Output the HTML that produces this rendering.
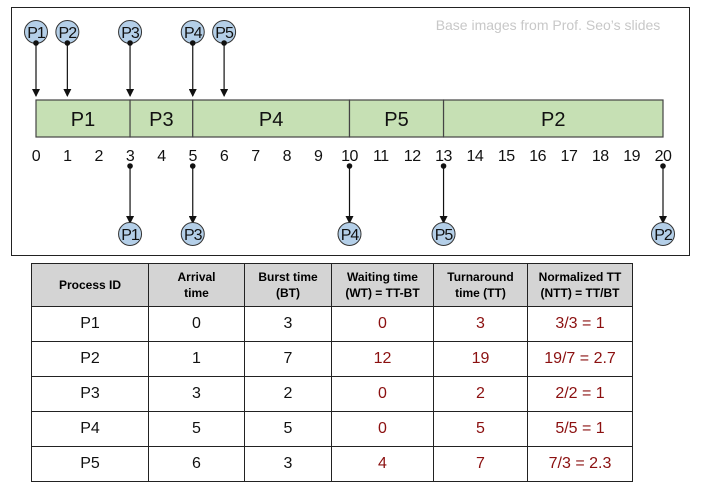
<!DOCTYPE html>
<html><head><meta charset="utf-8"><style>
body{margin:0;background:#fff;width:703px;height:493px;overflow:hidden;font-family:"Liberation Sans",sans-serif}
#frame{position:absolute;left:11px;top:7px;width:677px;height:247px;border:1px solid #222}
table{position:absolute;left:31px;top:263px;border-collapse:collapse;font-family:"Liberation Sans",sans-serif}
td,th{border:1.5px solid #222;text-align:center;padding:0}
th{background:#d4d4d4;font-size:12px;font-weight:bold;height:42px;line-height:16px}
td{height:34px;font-size:16px;color:#111}
td.r{color:#8b1010}
</style></head><body>
<div id="frame"></div>
<svg id="chart" width="703" height="260" style="position:absolute;left:0;top:0">
<text x="548" y="30" text-anchor="middle" font-size="14" fill="#c8c8c8">Base images from Prof. Seo’s slides</text>
</svg>
<table>
<tr><th style="width:116px">Process ID</th><th style="width:95px">Arrival<br>time</th><th style="width:86px">Burst time<br>(BT)</th><th style="width:101px">Waiting time<br>(WT) = TT-BT</th><th style="width:93px">Turnaround<br>time (TT)</th><th style="width:104px">Normalized TT<br>(NTT) = TT/BT</th></tr>
<tr><td>P1</td><td>0</td><td>3</td><td class="r">0</td><td class="r">3</td><td class="r">3/3 = 1</td></tr>
<tr><td>P2</td><td>1</td><td>7</td><td class="r">12</td><td class="r">19</td><td class="r">19/7 = 2.7</td></tr>
<tr><td>P3</td><td>3</td><td>2</td><td class="r">0</td><td class="r">2</td><td class="r">2/2 = 1</td></tr>
<tr><td>P4</td><td>5</td><td>5</td><td class="r">0</td><td class="r">5</td><td class="r">5/5 = 1</td></tr>
<tr><td>P5</td><td>6</td><td>3</td><td class="r">4</td><td class="r">7</td><td class="r">7/3 = 2.3</td></tr>
</table>
<script>
const segNames=["P1","P3","P4","P5","P2"];
const segStart=[0,3,5,10,13];
const segEnd=[3,5,10,13,20];
const arrivalNames=["P1","P2","P3","P4","P5"];
const arrivalTimes=[0,1,3,5,6];
const finishNames=["P1","P3","P4","P5","P2"];
const finishTimes=[3,5,10,13,20];
const ticks=[0,1,2,3,4,5,6,7,8,9,10,11,12,13,14,15,16,17,18,19,20];
const NS="http://www.w3.org/2000/svg";
const svg=document.getElementById("chart");
const x=t=>36+t*(663-36)/20;
function mk(tag,attrs,parent){const e=document.createElementNS(NS,tag);for(const k in attrs)e.setAttribute(k,attrs[k]);(parent||svg).appendChild(e);return e;}
const defs=mk("defs",{});
const m=mk("marker",{id:"ah",markerWidth:"8",markerHeight:"8",refX:"7",refY:"4",orient:"auto",markerUnits:"userSpaceOnUse"},defs);
mk("path",{d:"M0,0 L8,4 L0,8 z",fill:"#111"},m);
segNames.forEach((n,i)=>{
  const r=mk("rect",{x:x(segStart[i]),y:100,width:x(segEnd[i])-x(segStart[i]),height:37,fill:"#c6e0b4",stroke:"#444","stroke-width":1.2});
  
  
  const t=mk("text",{x:(x(segStart[i])+x(segEnd[i]))/2,y:126,"text-anchor":"middle","font-size":20,fill:"#111"});
  t.textContent=n;
  
  
});
ticks.forEach(v=>{
  const t=mk("text",{x:x(v),y:161,"text-anchor":"middle","font-size":16,fill:"#111","letter-spacing":"-0.5"});
  t.textContent=v;
  
  
});
function circ(cx,cy,label){
  const g=mk("g",{});
  
  
  mk("circle",{cx:cx,cy:cy,r:11.5,fill:"#b4cfe8",stroke:"#333","stroke-width":1},g);
  const t=mk("text",{x:cx,y:cy+6,"text-anchor":"middle","font-size":16,fill:"#111","letter-spacing":"-1"},g);
  t.textContent=label;
}
arrivalNames.forEach((n,i)=>{
  const cx=x(arrivalTimes[i]);
  circ(cx,32,n);
  mk("line",{x1:cx,y1:43,x2:cx,y2:96,stroke:"#111","stroke-width":1.2,"marker-end":"url(#ah)"});
  mk("circle",{cx:cx,cy:43,r:2.8,fill:"#111"});
});
finishNames.forEach((n,i)=>{
  const cx=x(finishTimes[i]);
  mk("line",{x1:cx,y1:166,x2:cx,y2:223,stroke:"#111","stroke-width":1.2,"marker-end":"url(#ah)"});
  mk("circle",{cx:cx,cy:166,r:2.8,fill:"#111"});
  circ(cx,234,n);
});
</script>
</body></html>
